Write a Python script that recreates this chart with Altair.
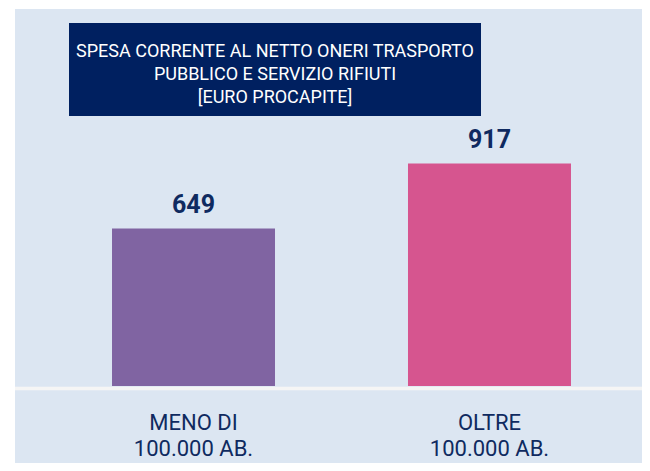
import altair as alt
import pandas as pd

# ---- data ----
categories = ["MENO DI|100.000 AB.", "OLTRE|100.000 AB."]
values = [649, 917]
bar_colors = ["#8064a2", "#d6558f"]
title_lines = [
    "SPESA CORRENTE AL NETTO ONERI TRASPORTO",
    "PUBBLICO E SERVIZIO RIFIUTI",
    "[EURO PROCAPITE]",
]

NAVY = "#0f2a60"
df = pd.DataFrame({"cat": categories, "val": values, "color": bar_colors})
one = pd.DataFrame({"k": [0]})

W, H = 634, 378

xs = alt.X(
    "cat:N",
    sort=categories,
    scale=alt.Scale(range=[0, 667], paddingInner=0.4493, paddingOuter=0.3514),
    axis=alt.Axis(
        title=None, domain=False, ticks=False, grid=False, labelAngle=0,
        labelExpr="split(datum.label, '|')",
        labelFont="Roboto", labelFontSize=22, labelColor=NAVY,
        labelLineHeight=26, labelBaseline="alphabetic", labelPadding=43,
        zindex=2,
    ),
)
ys = alt.Y("val:Q", scale=alt.Scale(domain=[0, 1558]), axis=None)

panel = alt.Chart(one).mark_rect(color="#dce6f2").encode(
    x=alt.value(7), x2=alt.value(634), y=alt.value(1), y2=alt.value(455)
)
title_box = alt.Chart(one).mark_rect(color="#002060").encode(
    x=alt.value(61), x2=alt.value(473), y=alt.value(15), y2=alt.value(108)
)
title_text = alt.Chart(one).mark_text(
    color="white", font="Roboto", fontSize=18,
    lineBreak="\n", lineHeight=23, align="center", baseline="alphabetic",
).encode(
    x=alt.value(267), y=alt.value(49), text=alt.value("\n".join(title_lines))
)
base_rule = alt.Chart(one).mark_rule(color="#f5f5f5", strokeWidth=3.5).encode(
    x=alt.value(7), x2=alt.value(634), y=alt.value(380.5)
)

bars = alt.Chart(df).mark_bar().encode(
    x=xs, y=ys, color=alt.Color("color:N", scale=None)
)
labels = alt.Chart(df).mark_text(
    font="Roboto", fontWeight="bold", fontSize=25, color=NAVY,
    baseline="alphabetic", dy=-16,
).encode(x=xs, y=ys, text=alt.Text("val:Q"))

chart = alt.layer(panel, title_box, title_text, base_rule, bars, labels).properties(
    width=W, height=H,
    autosize=alt.AutoSizeParams(type="none"),
    padding={"left": 0, "top": 0, "right": 0, "bottom": 77},
    background="#ffffff",
).configure_view(stroke=None)

chart.save("out.html", embed_options={"renderer": "svg", "actions": False})
